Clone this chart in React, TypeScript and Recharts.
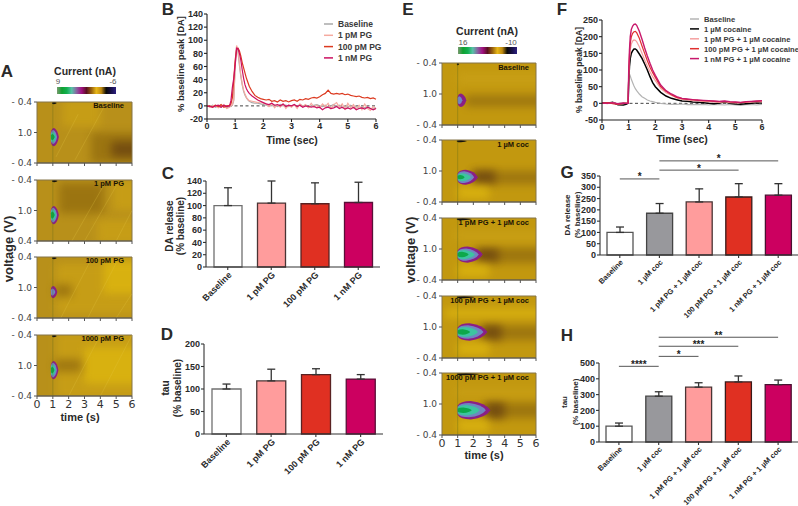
import { ComposedChart, Bar, Cell, Line, XAxis, YAxis, ErrorBar, ReferenceArea, ReferenceLine, Legend } from "recharts";

// ---- fast-scan colour plots (time 0-6 s, waveform position 0-2) ----
const PLOT_TICKS_X = [0, 1, 2, 3, 4, 5, 6];
const PLOT_TICKS_Y = [0, 1, 2];
const VOLT_LABELS = ["- 0.4", "1.0", "- 0.4"];

const leftTitles = ["Baseline", "1 pM PG", "100 pM PG", "1000 pM PG"];
const rightTitles = ["Baseline", "1 µM coc", "1 pM PG + 1 µM coc", "100 pM PG + 1 µM coc", "1000 pM PG + 1 µM coc"];

// [t0, t1, v0, v1, tone]
const leftWashes = [
    [[3.4, 6.6, 0, 1.0, "dark"], [4.7, 6.6, 0.2, 0.7, "deep"], [1.6, 4, 1.2, 2.1, "light"]],
    [[1.4, 4.2, 0.9, 1.9, "dark"], [3.8, 6.6, -0.1, 0.7, "light"], [4.8, 6.6, 1, 2, "light"]],
    [[1.2, 6.6, 0.1, 1.8, "light"], [4.2, 6.6, 0.8, 1.9, "bright"], [1.1, 2.2, 0.7, 1.1, "dark"]],
    [[1.2, 6.6, -0.1, 2.1, "light"], [3, 6.6, 0.4, 1.6, "bright"], [1.1, 2.8, 0.8, 1.2, "dark"]],
];
const rightWashes = [
    [[1.5, 6.6, 0.6, 0.95, "dark"], [1, 6.6, 1.3, 1.7, "light"]],
    [[1.9, 6.6, 0.58, 1.0, "dark"], [2, 3.4, 0.6, 1.0, "deep"], [1, 3, 0.1, 0.5, "bright"]],
    [[2.2, 6.6, 0.55, 1.05, "dark"], [2.2, 3.6, 0.6, 1.0, "deep"], [1, 3, 0.1, 0.5, "bright"], [0.8, 6.6, 1.25, 1.6, "light"]],
    [[2.4, 6.6, 0.58, 1.05, "dark"], [2.6, 3.8, 0.6, 1.05, "deep"], [1, 3, 0.1, 0.5, "bright"], [0.2, 6.6, 1.3, 1.6, "bright"]],
    [[2.6, 6.6, 0.55, 1.05, "dark"], [2.8, 4, 0.55, 1.05, "deep"], [1, 3, 0.1, 0.5, "bright"], [0.8, 6.6, 1.25, 1.5, "light"]],
];

// blob rings, outer to inner: [t end, half height]
const leftBlobs = [
    { v: 0.85, from: 0.88, rings: [[1.38, 0.3], [1.27, 0.23], [1.2, 0.17], [1.12, 0.1]] },
    { v: 0.85, from: 0.88, rings: [[1.38, 0.3], [1.27, 0.24], [1.2, 0.18], [1.12, 0.12]] },
    { v: 0.85, from: 0.88, rings: [[1.28, 0.2], [1.16, 0.12]] },
    { v: 0.85, from: 0.88, rings: [[1.35, 0.3], [1.26, 0.24], [1.18, 0.18], [1.1, 0.11]] },
];
const rightBlobs = [
    { v: 0.8, from: 1, rings: [[1.55, 0.22], [1.3, 0.13]] },
    { v: 0.8, from: 1, rings: [[2.3, 0.24], [2.05, 0.19], [1.85, 0.13], [1.45, 0.07]] },
    { v: 0.82, from: 1, rings: [[2.6, 0.26], [2.35, 0.2], [2.1, 0.15], [1.7, 0.09]] },
    { v: 0.84, from: 1, rings: [[2.9, 0.28], [2.65, 0.22], [2.3, 0.16], [1.8, 0.09]] },
    { v: 0.8, from: 1, rings: [[3.1, 0.3], [2.8, 0.23], [2.4, 0.17], [1.9, 0.09]] },
];
const leftMarks = [1.25, 1.3, 1.25, 1.25];
const rightMarks = [1.1, 1.6, 1.9, 2.1, 2.4];

// faint diagonal streaks [t0, v0, t1, v1]
const leftStreaks = [
    [[1.2, 0.2, 2.6, 1.6], [2.4, 0.1, 4.4, 2]],
    [[2.2, 0, 4.3, 1.9], [3, 0, 5, 1.8], [5, 0, 6, 1]],
    [[1.5, 0, 3.5, 2], [3.2, 0, 5, 1.8], [5, 0, 6, 0.8]],
    [[2, 0, 4, 2], [4, 0, 6, 2]],
];

const TONES: Record<string, string> = { dark: "#97700f", deep: "#6e4710", light: "#c9a016", bright: "#dcb50f" };
const RING_COLORS = ["#8a1f86", "#6f86c0", "#3dc4a0", "#0da84a"];
const COLORBAR = ["#7a9a70", "#10a030", "#12b050", "#58c0a8", "#8a60a0", "#a01080", "#5a1020", "#96600e", "#e8b818", "#c08a10", "#0a0a0a", "#181048", "#2c2080"];

// ---- evoked DA traces ----
const timeB = [0, 0.1, 0.2, 0.3, 0.4, 0.5, 0.6, 0.7, 0.8, 0.85, 0.9, 0.95, 1, 1.05, 1.1, 1.15, 1.2, 1.25, 1.3, 1.35, 1.4, 1.45, 1.5, 1.6, 1.7, 1.8, 1.9, 2,
    2.1, 2.2, 2.3, 2.4, 2.5, 2.6, 2.7, 2.8, 2.9, 3, 3.1, 3.2, 3.3, 3.4, 3.5, 3.6, 3.7, 3.8, 3.9, 4, 4.1, 4.2, 4.3, 4.4, 4.5, 4.6, 4.7, 4.8, 4.9, 5, 5.1, 5.2, 5.3, 5.4, 5.5, 5.6, 5.7, 5.8, 5.9, 6];
const baselineB = [0, -1, 1, -2, 0, -2, 1, -3, -1, 0, 1, 8, 60, 90, 82, 62, 45, 32, 22, 16, 12, 9, 7, 5, 4, 4, 3, 2,
    1, 2, 0, 1, -1, 2, 0, 1, -1, 0, 1, -1, 2, 0, 1, -2, 0, 1, 2, 0, -1, 1, -2, 0, 2, -1, 1, -3, 0, -2, 1, -3, -1, -4, -2, -3, -1, -4, -5, -3];
const onePmB = [1, -2, 0, 1, -3, -1, 2, -4, -2, 0, 2, 10, 62, 92, 85, 66, 48, 34, 24, 18, 13, 10, 8, 7, 6, 5, 6, 4,
    3, -1, 4, -3, 2, -2, 3, -4, 1, -2, 2, -4, 3, -1, 2, -3, 4, -2, 1, -3, 3, -1, 4, -4, 2, 5, -2, 3, -5, 4, -3, 2, -5, 1, -6, 3, -4, -7, -1, -5];
const hundredPmB = [-1, 0, -2, 1, -1, 2, -2, 0, 1, 3, 12, 40, 70, 86, 88, 84, 76, 66, 58, 50, 42, 36, 30, 22, 16, 13, 11, 10,
    9, 10, 7, 8, 6, 9, 7, 8, 6, 8, 9, 7, 10, 9, 11, 10, 12, 13, 12, 14, 17, 19, 24, 19, 18, 19, 18, 19, 17, 18, 16, 15, 14, 15, 13, 12, 13, 11, 12, 10];
const oneNmB = [0, -1, -2, 0, 1, -2, 1, -1, 0, 8, 28, 42, 62, 88, 87, 80, 70, 55, 42, 32, 26, 22, 19, 15, 12, 9, 7, 5,
    3, 2, 4, 1, 2, 0, 3, -1, 1, 0, 2, -1, 1, -2, 0, -1, -2, -1, -3, -2, -6, -3, -2, -4, -3, -1, -4, -2, -5, -3, -5, -2, -6, -4, -3, -5, -2, -4, -6, -4];

const timeF = [0, 0.2, 0.4, 0.6, 0.8, 0.9, 0.98, 1, 1.03, 1.06, 1.1, 1.15, 1.2, 1.25, 1.3, 1.4, 1.5, 1.6, 1.7, 1.8, 1.9, 2, 2.2, 2.4, 2.6, 2.8, 3, 3.2, 3.4, 3.6, 3.8, 4, 4.2, 4.4, 4.6, 4.8, 5, 5.2, 5.4, 5.6, 5.8, 6];
const baselineF = [1, 2, 0, -3, 2, 0, 0, 50, 88, 82, 72, 62, 52, 44, 38, 28, 20, 15, 10, 7, 5, 3, 0, -2, -3, -3, -2, -4, -3, -4, -3, -5, -3, -4, -5, -3, -5, -6, -4, -3, -5, -3];
const cocaineF = [2, 0, 3, -4, -5, -3, 0, 60, 110, 135, 150, 158, 163, 163, 160, 148, 135, 118, 100, 80, 62, 50, 33, 22, 15, 11, 7, 6, 4, 3, 2, 0, -1, 1, 4, 0, -2, -3, -1, 0, 2, 1];
const onePmF = [1, -1, 2, -2, -1, 0, 0, 70, 130, 160, 178, 187, 190, 189, 185, 170, 150, 130, 112, 95, 80, 68, 45, 32, 24, 16, 12, 10, 8, 7, 6, 5, 4, 3, 5, 2, 1, 2, 3, 4, 5, 4];
const hundredPmF = [0, 2, -1, -3, 0, 1, 0, 80, 145, 180, 200, 210, 215, 216, 212, 195, 172, 150, 128, 108, 92, 78, 50, 36, 26, 18, 14, 12, 11, 9, 8, 7, 6, 5, 6, 4, 3, 2, 4, 5, 6, 7];
const oneNmF = [1, 0, 2, -1, 1, 0, 0, 90, 160, 200, 222, 232, 237, 238, 234, 216, 192, 166, 142, 120, 100, 84, 55, 38, 28, 20, 15, 13, 11, 10, 9, 8, 7, 6, 7, 5, 4, 3, 5, 6, 7, 8];

// ---- bars ----
const pgNames = ["Baseline", "1 pM PG", "100 pM PG", "1 nM PG"];
const releaseC = [100, 104, 103, 105];
const releaseCTop = [129, 140, 137, 138];
const tauD = [100, 118, 132, 122];
const tauDTop = [111, 144, 145, 132];

const cocNames = ["Baseline", "1 µM coc", "1 pM PG + 1 µM coc", "100 pM PG + 1 µM coc", "1 nM PG + 1 µM coc"];
const releaseG = [100, 185, 235, 257, 265];
const releaseGTop = [124, 228, 293, 316, 316];
const tauH = [100, 290, 347, 380, 363];
const tauHTop = [120, 318, 375, 418, 392];

const sigG: [number, number, number, string][] = [[0, 1, 337, "*"], [1, 3, 376, "*"], [1, 4, 417, "*"]];
const sigH: [number, number, number, string][] = [[0, 1, 479, "****"], [1, 2, 542, "*"], [1, 3, 606, "***"], [1, 4, 663, "**"]];

const PG_FILL = ["#ffffff", "#ff9c9c", "#e03022", "#cc0060"];
const PG_EDGE = ["#707070", "#4a3434", "#5a2222", "#5a1038"];
const COC_FILL = ["#ffffff", "#98989c", "#ff9c9c", "#e03022", "#cc0060"];
const COC_EDGE = ["#555555", "#444444", "#4a3434", "#3a1a1a", "#4a1030"];

const SANS = "'Liberation Sans', Arial, sans-serif";
const INK = "#2a2a2a";

function rows(time: number[], series: Record<string, number[]>) {
    return time.map((t, i) => {
        const row: Record<string, number> = { t };
        Object.keys(series).forEach((k) => (row[k] = series[k][i]));
        return row;
    });
}

function barRows(names: string[], means: number[], tops: number[]) {
    return names.map((name, i) => ({ name, mean: means[i], err: [0, tops[i] - means[i]] }));
}

function Caption({ x, y, text, size = 9, bold = true, rot = 0, align = "center", color = INK, font = SANS }: any) {
    const shift = align === "right" ? "-100%" : "-50%";
    return (
        <div style={{ position: "absolute", left: x, top: y, transform: `translate(${shift}, -50%) rotate(${rot}deg)`, whiteSpace: "nowrap", fontFamily: font, fontSize: size, fontWeight: bold ? 700 : 400, color, lineHeight: 1 }}>
            {text}
        </div>
    );
}

function ColorBar({ x, y, w, h }: any) {
    return <div style={{ position: "absolute", left: x, top: y, width: w, height: h, background: `linear-gradient(to right, ${COLORBAR.join(",")})` }} />;
}

function drop(x: number, y: number, w: number, h: number) {
    return `M${x} ${y + h * 0.25}Q${x + w * 0.08} ${y} ${x + w * 0.4} ${y}Q${x + w * 0.85} ${y + h * 0.1} ${x + w} ${y + h / 2}Q${x + w * 0.85} ${y + h * 0.9} ${x + w * 0.4} ${y + h}Q${x + w * 0.08} ${y + h} ${x} ${y + h * 0.75}Z`;
}

const FRAME = [{ t: 0, level: 0 }, { t: 6, level: 2 }];

function HeatPlot({ left, top, width, height, base, wash, blob, mark, streaks = [], last }: any) {
    const padL = 34, padB = 22, padT = 6, padR = 6;
    return (
        <div style={{ position: "absolute", left: left - padL, top: top - padT }}>
            <ComposedChart width={width + padL + padR} height={height + padT + padB} margin={{ top: padT, right: padR, left: 0, bottom: 0 }} data={FRAME}>
                <ReferenceArea x1={0} x2={6} y1={0} y2={2} fill={base} fillOpacity={1} stroke="none" />
                {wash.map((w: any, i: number) => (
                    <ReferenceArea key={i} x1={w[0]} x2={w[1]} y1={w[2]} y2={w[3]} ifOverflow="hidden"
                        shape={(p: any) => (
                            <g clipPath={p.clipPath}>
                                <rect x={p.x} y={p.y} width={p.width} height={p.height} fill={TONES[w[4]]} opacity={0.85} style={{ filter: "blur(4px)" }} />
                            </g>
                        )} />
                ))}
                {streaks.map((s: any, i: number) => (
                    <ReferenceLine key={i} segment={[{ x: s[0], y: s[1] }, { x: s[2], y: s[3] }]} stroke="#e4c848" strokeOpacity={0.3} strokeWidth={0.8} />
                ))}
                <ReferenceLine x={1} stroke="#5e6a18" strokeOpacity={0.5} strokeWidth={0.7} />
                {blob.rings.map((r: any, i: number) => (
                    <ReferenceArea key={i} x1={blob.from} x2={r[0]} y1={blob.v - r[1]} y2={blob.v + r[1]}
                        shape={(p: any) => <path d={drop(p.x, p.y, p.width, p.height)} fill={RING_COLORS[i]} style={{ filter: "blur(0.6px)" }} />} />
                ))}
                <ReferenceArea x1={0.95} x2={mark} y1={1.93} y2={2}
                    shape={(p: any) => <path d={drop(p.x, p.y, p.width, p.height)} fill="#15120c" />} />
                <ReferenceArea x1={0} x2={6} y1={0} y2={2} fill="none" stroke="#857548" strokeWidth={1} />
                <Line dataKey="level" stroke="none" dot={false} legendType="none" isAnimationActive={false} />
                <XAxis type="number" dataKey="t" domain={[0, 6]} ticks={PLOT_TICKS_X} interval={0} height={padB} tickSize={3}
                    stroke="#555" tickFormatter={(v) => (last ? String(v) : "")}
                    tick={{ fontSize: 11, fontFamily: "'DejaVu Sans'", fill: "#333", stroke: "none" }} tickMargin={1} />
                <YAxis type="number" domain={[0, 2]} ticks={PLOT_TICKS_Y} interval={0} width={padL} tickSize={3} axisLine={false}
                    stroke="#555" tickFormatter={(v) => VOLT_LABELS[v]} tick={{ fontSize: 9, fontFamily: "'DejaVu Sans'", fill: "#444", stroke: "none" }} />
            </ComposedChart>
        </div>
    );
}

function TraceLegend({ payload, lines, step, size }: any) {
    const items = [...payload].sort((a: any, b: any) => lines.findIndex((l: any) => l.name === a.value) - lines.findIndex((l: any) => l.name === b.value));
    return (
        <svg width={170} height={step * items.length + 6} style={{ display: "block" }}>
            {items.map((p: any, i: number) => (
                <g key={p.value}>
                    <line x1={0} x2={9} y1={step * i + 5} y2={step * i + 5} stroke={p.color} strokeWidth={1.5} />
                    <text x={14} y={step * i + 8} fontSize={size} fontFamily={SANS} fontWeight={700} fill="#3a3a3a">{p.value}</text>
                </g>
            ))}
        </svg>
    );
}

function TraceChart({ x0, x1, y0, y1, data, lines, domain, ticks, legendAt, step, size }: any) {
    const padL = 30, padR = 36, padT = 8, padB = 18;
    return (
        <div style={{ position: "absolute", left: x0 - padL, top: y0 - padT }}>
            <ComposedChart width={x1 - x0 + padL + padR} height={y1 - y0 + padT + padB} margin={{ top: padT, right: padR, left: 0, bottom: 0 }} data={data}>
                <XAxis type="number" dataKey="t" domain={[0, 6]} ticks={PLOT_TICKS_X} interval={0} height={padB} tickSize={3} stroke="#222" strokeWidth={1.1}
                    tick={{ fontSize: 9, fontFamily: SANS, fontWeight: 700, fill: INK, stroke: "none" }} tickMargin={1} />
                <YAxis type="number" domain={domain} ticks={ticks} interval={0} width={padL} tickSize={3} stroke="#222" strokeWidth={1.1}
                    tick={{ fontSize: 9, fontFamily: SANS, fontWeight: 700, fill: INK, stroke: "none" }} tickMargin={1} />
                <ReferenceLine y={0} stroke="#111" strokeWidth={0.8} strokeDasharray="3 2.5" />
                {lines.map((l: any) => (
                    <Line key={l.key} dataKey={l.key} name={l.name} stroke={l.color} strokeWidth={l.w || 1.2} dot={false} isAnimationActive={false} type="linear" />
                ))}
                <Legend layout="vertical" align="center" verticalAlign="middle" wrapperStyle={{ left: legendAt[0] - x0 + padL, top: legendAt[1] - y0 + padT, width: 170 }}
                    content={(p: any) => <TraceLegend payload={p.payload} lines={lines} step={step} size={size} />} />
            </ComposedChart>
        </div>
    );
}

function BarPanel({ x0, x1, y0, y1, data, fills, edges, domain, ticks, barSize, size, capW, sig = [], names = [] }: any) {
    const padL = 30, padR = 2, padT = 44, padB = 70;
    return (
        <div style={{ position: "absolute", left: x0 - padL, top: y0 - padT }}>
            <ComposedChart width={x1 - x0 + padL + padR} height={y1 - y0 + padT + padB} margin={{ top: padT, right: padR, left: 0, bottom: 0 }} data={data}>
                <XAxis dataKey="name" interval={0} height={padB} tickSize={3} stroke="#333" strokeWidth={1.1} angle={-45} textAnchor="end"
                    tick={{ fontSize: size, fontFamily: SANS, fontWeight: 700, fill: INK, stroke: "none" }} tickMargin={1} />
                <YAxis type="number" domain={domain} ticks={ticks} interval={0} width={padL} tickSize={3} stroke="#333" strokeWidth={1.1}
                    tick={{ fontSize: 9, fontFamily: SANS, fontWeight: 700, fill: INK, stroke: "none" }} tickMargin={1} />
                <Bar dataKey="mean" barSize={barSize} isAnimationActive={false} strokeWidth={1.3}>
                    {data.map((d: any, i: number) => (
                        <Cell key={d.name} fill={fills[i]} stroke={edges[i]} />
                    ))}
                    <ErrorBar dataKey="err" direction="y" width={capW} stroke="#333" strokeWidth={1.3} isAnimationActive={false} />
                </Bar>
                {sig.map((s: any, i: number) => (
                    <ReferenceLine key={i} ifOverflow="visible" stroke="#555" strokeWidth={1}
                        segment={[{ x: names[s[0]], y: s[2] }, { x: names[s[1]], y: s[2] }]}
                        label={{ value: s[3], position: "center", dy: -2, fontSize: 10, fontWeight: 700, fill: "#222", fontFamily: SANS }} />
                ))}
            </ComposedChart>
        </div>
    );
}

export default function App() {
    const traceB = rows(timeB, { base: baselineB, onePm: onePmB, hundredPm: hundredPmB, oneNm: oneNmB });
    const traceF = rows(timeF, { base: baselineF, coc: cocaineF, onePm: onePmF, hundredPm: hundredPmF, oneNm: oneNmF });
    const leftTops = [102, 180, 257, 335];
    const rightTops = [63, 140, 218, 296, 373];

    return (
        <div style={{ position: "absolute", left: 0, top: 0, width: 798, height: 506, background: "#fff", overflow: "hidden" }}>
            {/* A */}
            <Caption x={7} y={71} text="A" size={17} />
            <Caption x={85} y={71} text="Current (nA)" size={10.5} />
            <Caption x={58} y={82} text="9" size={8} bold={false} color="#555" />
            <Caption x={113} y={82} text="-6" size={8} bold={false} color="#555" />
            <ColorBar x={57} y={87} w={59} h={7} />
            {leftTops.map((top, i) => (
                <div key={top}>
                    <HeatPlot left={37} top={top} width={95} height={61} base="#b8901a" wash={leftWashes[i]} blob={leftBlobs[i]} mark={leftMarks[i]} streaks={leftStreaks[i]} last={i === leftTops.length - 1} />
                    <Caption x={124} y={top + 4} text={leftTitles[i]} size={7.5} align="right" color="#1a1405" />
                </div>
            ))}
            <Caption x={8} y={249} text="voltage (V)" size={13} rot={-90} />
            <Caption x={80} y={417} text="time (s)" size={11} />

            {/* B */}
            <Caption x={168} y={9} text="B" size={17} />
            <TraceChart x0={207} x1={376} y0={14} y1={119} data={traceB} domain={[-20, 140]} ticks={[-20, 0, 20, 40, 60, 80, 100, 120, 140]}
                legendAt={[324, 19]} step={11.3} size={8.5}
                lines={[
                    { key: "base", name: "Baseline", color: "#a8a8a8" },
                    { key: "onePm", name: "1 pM PG", color: "#f5aaa0" },
                    { key: "hundredPm", name: "100 pM PG", color: "#dc3a20" },
                    { key: "oneNm", name: "1 nM PG", color: "#cc1060" },
                ]} />
            <Caption x={181} y={64} text="% baseline peak [DA]" size={9.5} rot={-90} />
            <Caption x={292} y={140} text="Time (sec)" size={10.5} />

            {/* C */}
            <Caption x={168} y={173} text="C" size={17} />
            <BarPanel x0={206} x1={380} y0={181} y1={267} data={barRows(pgNames, releaseC, releaseCTop)} fills={PG_FILL} edges={PG_EDGE}
                domain={[0, 140]} ticks={[0, 20, 40, 60, 80, 100, 120, 140]} barSize={28} size={9} capW={4} />
            <Caption x={170} y={226} text="DA release" size={10} rot={-90} />
            <Caption x={181} y={226} text="(% baseline)" size={10} rot={-90} />

            {/* D */}
            <Caption x={167} y={334} text="D" size={17} />
            <BarPanel x0={204} x1={383} y0={344} y1={434} data={barRows(pgNames, tauD, tauDTop)} fills={PG_FILL} edges={PG_EDGE}
                domain={[0, 200]} ticks={[0, 50, 100, 150, 200]} barSize={29} size={9} capW={4} />
            <Caption x={166} y={388} text="tau" size={10} rot={-90} />
            <Caption x={178} y={388} text="(% baseline)" size={10} rot={-90} />

            {/* E */}
            <Caption x={408} y={9} text="E" size={17} />
            <Caption x={487} y={31} text="Current (nA)" size={10.5} />
            <Caption x={463} y={43} text="16" size={8} bold={false} color="#555" />
            <Caption x={511} y={43} text="-10" size={8} bold={false} color="#555" />
            <ColorBar x={458} y={47} w={59} h={7} />
            {rightTops.map((top, i) => (
                <div key={top}>
                    <HeatPlot left={442} top={top} width={94} height={62} base="#c2980f" wash={rightWashes[i]} blob={rightBlobs[i]} mark={rightMarks[i]} last={i === rightTops.length - 1} />
                    <Caption x={529} y={top + 5} text={rightTitles[i]} size={7.5} align="right" color="#1a1405" />
                </div>
            ))}
            <Caption x={410} y={250} text="voltage (V)" size={13} rot={-90} />
            <Caption x={484} y={455} text="time (s)" size={11} />

            {/* F */}
            <Caption x={562} y={9} text="F" size={17} />
            <TraceChart x0={602} x1={762} y0={20} y1={120} data={traceF} domain={[-50, 250]} ticks={[-50, 0, 50, 100, 150, 200, 250]}
                legendAt={[690, 14]} step={9.9} size={7.6}
                lines={[
                    { key: "base", name: "Baseline", color: "#b4b4b4" },
                    { key: "coc", name: "1 µM cocaine", color: "#000000", w: 1.5 },
                    { key: "onePm", name: "1 pM PG + 1 µM cocaine", color: "#f5a0a0" },
                    { key: "hundredPm", name: "100 pM PG + 1 µM cocaine", color: "#e03030" },
                    { key: "oneNm", name: "1 nM PG + 1 µM cocaine", color: "#c8186c", w: 1.4 },
                ]} />
            <Caption x={579} y={70} text="% baseline peak [DA]" size={8.5} rot={-90} />
            <Caption x={682} y={139} text="Time (sec)" size={10.5} />

            {/* G */}
            <Caption x={567} y={172} text="G" size={17} />
            <BarPanel x0={600} x1={798} y0={176} y1={255} data={barRows(cocNames, releaseG, releaseGTop)} fills={COC_FILL} edges={COC_EDGE}
                domain={[0, 350]} ticks={[0, 50, 100, 150, 200, 250, 300, 350]} barSize={26} size={7.5} capW={4} sig={sigG} names={cocNames} />
            <Caption x={568} y={215} text="DA release" size={8} rot={-90} />
            <Caption x={578} y={215} text="(% baseline)" size={8} rot={-90} />

            {/* H */}
            <Caption x={567} y={335} text="H" size={17} />
            <BarPanel x0={599} x1={798} y0={363} y1={442} data={barRows(cocNames, tauH, tauHTop)} fills={COC_FILL} edges={COC_EDGE}
                domain={[0, 500]} ticks={[0, 100, 200, 300, 400, 500]} barSize={26} size={7.5} capW={4} sig={sigH} names={cocNames} />
            <Caption x={565} y={402} text="tau" size={8} rot={-90} />
            <Caption x={576} y={402} text="(% baseline)" size={8} rot={-90} />
        </div>
    );
}
